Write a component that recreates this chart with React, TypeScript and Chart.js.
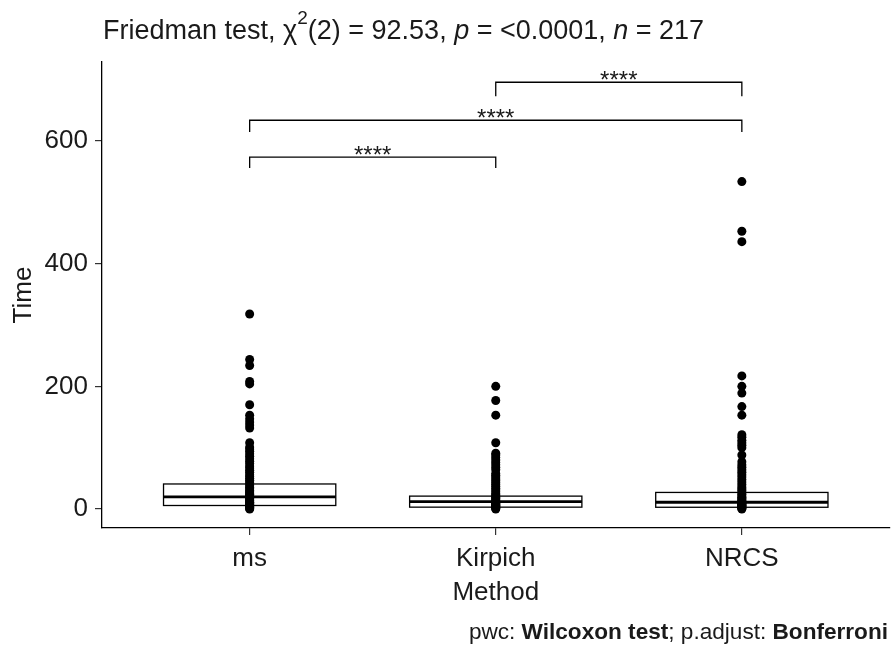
import React, { useEffect, useRef } from "react";
import { Chart, registerables } from "chart.js";

Chart.register(...registerables);

const categories = ["ms", "Kirpich", "NRCS"];
const q1 = [5.7, 3, 2.8];
const median = [19.6, 12, 11];
const q3 = [40.8, 21, 27];
const whiskerLow = [0, 0, 0];
const whiskerHigh = [93, 48, 63];

const msTimes = [0, 1, 2, 3, 4, 5, 6, 7, 8, 9, 10, 11, 12, 14, 15, 17, 19, 20, 22, 24, 26, 28, 30, 33, 35, 38, 41, 44, 47, 50, 53, 56, 60, 63, 67, 70, 74, 78, 82, 86, 90, 94, 98, 101, 108, 132, 137, 142, 147, 153, 170, 204, 208, 234, 244, 318];
const kirpichTimes = [0, 1, 2, 3, 4, 5, 6, 7, 8, 9, 10, 11, 12, 13, 15, 17, 19, 21, 23, 25, 28, 31, 34, 37, 40, 43, 46, 49, 52, 55, 58, 64, 68, 72, 76, 80, 84, 88, 91, 108, 153, 177, 200];
const nrcsTimes = [0, 1, 2, 3, 4, 5, 6, 7, 8, 9, 10, 11, 12, 13, 15, 17, 19, 21, 24, 27, 30, 33, 36, 40, 44, 48, 52, 56, 60, 64, 68, 72, 77, 88, 100, 104, 108, 112, 117, 121, 153, 167, 189, 200, 217, 436, 453, 534];

const yTicks = [0, 200, 400, 600];

const bracketFrom = [1, 1, 2];
const bracketTo = [2, 3, 3];
const bracketY = [574, 634, 696];
const bracketTip = [556, 615, 673];
const bracketLabels = ["****", "****", "****"];

const FONT = "'Liberation Sans', Arial, sans-serif";
const TEXT = "#1a1a1a";

const drawPlugin = {
  id: "boxAndAnnot",
  beforeDatasetsDraw(chart: any) {
    const { ctx, scales } = chart;
    const xs = scales.x;
    const ys = scales.y;
    ctx.save();
    for (let i = 0; i < categories.length; i++) {
      const xl = xs.getPixelForValue(i + 1 - 0.35);
      const xr = xs.getPixelForValue(i + 1 + 0.35);
      const xc = xs.getPixelForValue(i + 1);
      const yq1 = ys.getPixelForValue(q1[i]);
      const yq3 = ys.getPixelForValue(q3[i]);
      const ym = ys.getPixelForValue(median[i]);
      ctx.strokeStyle = "#000";
      ctx.lineWidth = 1.3;
      ctx.beginPath();
      ctx.moveTo(xc, ys.getPixelForValue(q3[i]));
      ctx.lineTo(xc, ys.getPixelForValue(whiskerHigh[i]));
      ctx.moveTo(xc, ys.getPixelForValue(q1[i]));
      ctx.lineTo(xc, ys.getPixelForValue(whiskerLow[i]));
      ctx.stroke();
      ctx.fillStyle = "#fff";
      ctx.fillRect(xl, yq3, xr - xl, yq1 - yq3);
      ctx.strokeRect(xl, yq3, xr - xl, yq1 - yq3);
      ctx.lineWidth = 2.8;
      ctx.beginPath();
      ctx.moveTo(xl, ym);
      ctx.lineTo(xr, ym);
      ctx.stroke();
    }
    ctx.restore();
  },
  afterDraw(chart: any) {
    const { ctx, scales, chartArea } = chart;
    const xs = scales.x;
    const ys = scales.y;
    ctx.save();
    // brackets
    ctx.strokeStyle = "#000";
    ctx.lineWidth = 1.3;
    for (let i = 0; i < bracketFrom.length; i++) {
      const x1 = xs.getPixelForValue(bracketFrom[i]);
      const x2 = xs.getPixelForValue(bracketTo[i]);
      const y = ys.getPixelForValue(bracketY[i]);
      const yt = ys.getPixelForValue(bracketTip[i]);
      ctx.beginPath();
      ctx.moveTo(x1, yt);
      ctx.lineTo(x1, y);
      ctx.lineTo(x2, y);
      ctx.lineTo(x2, yt);
      ctx.stroke();
      ctx.fillStyle = TEXT;
      ctx.font = `24px ${FONT}`;
      ctx.textAlign = "center";
      ctx.textBaseline = "alphabetic";
      ctx.fillText(bracketLabels[i], (x1 + x2) / 2, y + 6);
    }
    // x tick labels
    ctx.fillStyle = TEXT;
    ctx.font = `26px ${FONT}`;
    ctx.textAlign = "center";
    ctx.textBaseline = "alphabetic";
    for (let i = 0; i < categories.length; i++) {
      ctx.fillText(categories[i], xs.getPixelForValue(i + 1), 566);
    }
    // x title
    ctx.fillText("Method", (chartArea.left + chartArea.right) / 2, 600);
    // y title
    ctx.save();
    ctx.translate(31, (chartArea.top + chartArea.bottom) / 2);
    ctx.rotate(-Math.PI / 2);
    ctx.fillText("Time", 0, 0);
    ctx.restore();
    // main title
    const segs: [string, string][] = [
      ["Friedman test, ", ""],
      ["\u03c7", ""],
      ["2", "sup"],
      ["(2) = 92.53, ", ""],
      ["p", "italic"],
      [" = <0.0001, ", ""],
      ["n", "italic"],
      [" = 217", ""],
    ];
    ctx.textAlign = "left";
    let x = 103;
    const base = 39;
    for (const [t, style] of segs) {
      if (style === "sup") {
        ctx.font = `19px ${FONT}`;
        ctx.fillText(t, x, base - 15);
      } else if (style === "italic") {
        ctx.font = `italic 27px ${FONT}`;
        ctx.fillText(t, x, base);
      } else {
        ctx.font = `27px ${FONT}`;
        ctx.fillText(t, x, base);
      }
      x += ctx.measureText(t).width;
    }
    // caption
    const cap: [string, boolean][] = [
      ["pwc: ", false],
      ["Wilcoxon test", true],
      ["; p.adjust: ", false],
      ["Bonferroni", true],
    ];
    let total = 0;
    for (const [t, b] of cap) {
      ctx.font = `${b ? "bold " : ""}22.6px ${FONT}`;
      total += ctx.measureText(t).width;
    }
    let cx = 888 - total;
    for (const [t, b] of cap) {
      ctx.font = `${b ? "bold " : ""}22.6px ${FONT}`;
      ctx.fillText(t, cx, 639);
      cx += ctx.measureText(t).width;
    }
    ctx.restore();
  },
};

export default function App() {
  const ref = useRef<HTMLCanvasElement | null>(null);
  useEffect(() => {
    if (!ref.current) return;
    const mk = (vals: number[], i: number) => ({
      data: vals.map((v) => ({ x: i + 1, y: v })),
      pointRadius: 4.5,
      pointHoverRadius: 4.5,
      backgroundColor: "#000",
      borderColor: "#000",
      borderWidth: 0,
    });
    const chart = new Chart(ref.current, {
      type: "scatter",
      data: {
        datasets: [mk(msTimes, 0), mk(kirpichTimes, 1), mk(nrcsTimes, 2)],
      },
      options: {
        animation: false,
        responsive: false,
        maintainAspectRatio: false,
        layout: { padding: { top: 62, right: 0, left: 0, bottom: 0 } },
        plugins: { legend: { display: false }, tooltip: { enabled: false }, title: { display: false } },
        scales: {
          x: {
            type: "linear",
            min: 0.4,
            max: 3.6,
            afterBuildTicks: (s: any) => {
              s.ticks = [1, 2, 3].map((v) => ({ value: v }));
            },
            afterFit: (s: any) => {
              s.height = 124;
            },
            ticks: { display: false },
            grid: { display: true, drawOnChartArea: false, drawTicks: true, tickLength: 7, color: "#333", lineWidth: 1.2 },
            border: { display: true, color: "#000", width: 1.3 },
          },
          y: {
            min: -31,
            max: 729,
            afterBuildTicks: (s: any) => {
              s.ticks = yTicks.map((v) => ({ value: v }));
            },
            afterFit: (s: any) => {
              s.width = 102;
            },
            ticks: { font: { family: FONT, size: 26 }, color: TEXT, padding: 7 },
            grid: { display: true, drawOnChartArea: false, drawTicks: true, tickLength: 7, color: "#333", lineWidth: 1.2 },
            border: { display: true, color: "#000", width: 1.3 },
          },
        },
      },
      plugins: [drawPlugin],
    });
    return () => chart.destroy();
  }, []);
  return (
    <div style={{ position: "fixed", left: 0, top: 0, width: 894, height: 652, background: "#fff" }}>
      <canvas ref={ref} width={894} height={652} style={{ width: 894, height: 652 }} />
    </div>
  );
}
